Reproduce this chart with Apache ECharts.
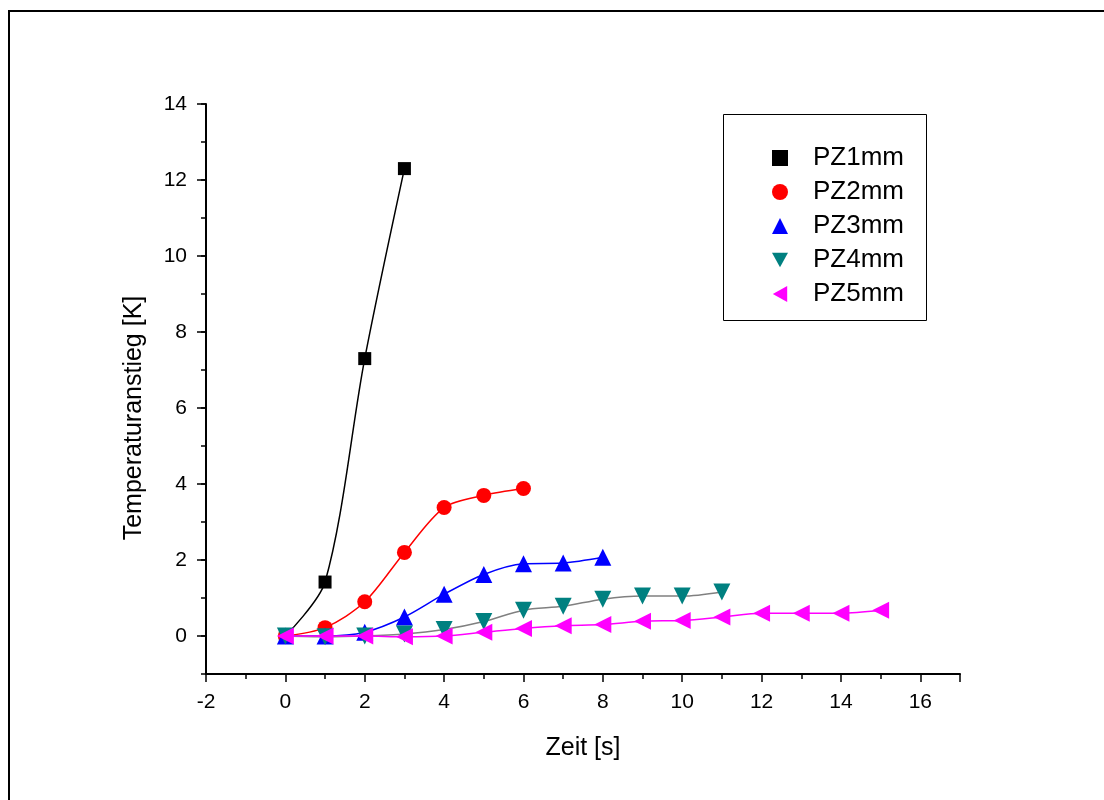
<!DOCTYPE html>
<html>
<head>
<meta charset="utf-8">
<script src="https://cdn.jsdelivr.net/npm/echarts@6/dist/echarts.min.js"></script>
<style>
  html, body { margin: 0; padding: 0; background: #fff; }
  #chart { width: 1104px; height: 800px; }
</style>
</head>
<body>
<div id="chart"></div>
<script>
// Measured temperature rise over time for each PZ thickness
const xPZ1 = [0, 1, 2, 3];
const yPZ1 = [0, 1.42, 7.3, 12.3];

const xPZ2 = [0, 1, 2, 3, 4, 5, 6];
const yPZ2 = [0, 0.22, 0.9, 2.2, 3.38, 3.7, 3.88];

const xPZ3 = [0, 1, 2, 3, 4, 5, 6, 7, 8];
const yPZ3 = [0, 0, 0.1, 0.5, 1.1, 1.62, 1.9, 1.92, 2.07];

const xPZ4 = [0, 1, 2, 3, 4, 5, 6, 7, 8, 9, 10, 11];
const yPZ4 = [0, -0.02, 0, 0.05, 0.17, 0.38, 0.68, 0.78, 0.97, 1.05, 1.05, 1.16];

const xPZ5 = [0, 1, 2, 3, 4, 5, 6, 7, 8, 9, 10, 11, 12, 13, 14, 15];
const yPZ5 = [0, 0, 0, -0.02, 0, 0.1, 0.2, 0.27, 0.3, 0.39, 0.41, 0.5, 0.6, 0.6, 0.6, 0.68];

const seriesNames = ['PZ1mm', 'PZ2mm', 'PZ3mm', 'PZ4mm', 'PZ5mm'];

const xTickMin = -2, xTickMax = 17, xTickStep = 2;
const yMin = -1, yMax = 14;
const yMajorTicks = [0, 2, 4, 6, 8, 10, 12, 14];

const FONT = 'Liberation Sans, Arial, sans-serif';

// marker shapes
const ICON_DOWN = 'path://M0,0 L10,0 L5,9 Z';
const ICON_LEFT = 'path://M0,5 L9,0 L9,10 Z';

function pairs(xs, ys) { return xs.map((x, i) => [x, ys[i]]); }

function makeSeries(name, xs, ys, symbol, size, markerColor, lineColor) {
  return {
    name: name,
    type: 'line',
    data: pairs(xs, ys),
    smooth: 0.3,
    symbol: symbol,
    symbolSize: size,
    showAllSymbol: true,
    yAxisIndex: 0,
    itemStyle: { color: markerColor },
    lineStyle: { color: lineColor, width: 1.5 },
    animation: false
  };
}

const chart = echarts.init(document.getElementById('chart'), null, { renderer: 'canvas' });

const tickLine = { color: '#000', width: 1.5 };

chart.setOption({
  backgroundColor: '#ffffff',
  animation: false,
  grid: { left: 206, right: 144, top: 104, bottom: 126, containLabel: false },
  xAxis: {
    type: 'value',
    min: xTickMin,
    max: xTickMax,
    interval: xTickStep,
    name: 'Zeit [s]',
    nameLocation: 'middle',
    nameGap: 62,
    nameTextStyle: { fontFamily: FONT, fontSize: 25, color: '#000' },
    axisLine: { onZero: false, lineStyle: { color: '#000', width: 2 } },
    axisTick: { show: true, inside: false, length: 8, lineStyle: tickLine },
    minorTick: { show: true, splitNumber: 2, length: 5, lineStyle: tickLine },
    splitLine: { show: false },
    axisLabel: {
      fontFamily: FONT, fontSize: 21, color: '#000', margin: 18,
      formatter: v => (v > 16 ? '' : String(v))
    }
  },
  yAxis: [
    {
      // main axis with labelled major ticks
      type: 'value',
      min: yMin,
      max: yMax,
      interval: 1,
      position: 'left',
      axisLine: { onZero: false, lineStyle: { color: '#000', width: 2 } },
      axisTick: { show: true, inside: false, length: 9, lineStyle: tickLine, customValues: yMajorTicks },
      splitLine: { show: false },
      axisLabel: {
        fontFamily: FONT, fontSize: 21, color: '#000', margin: 19,
        customValues: yMajorTicks
      },
      z: 3
    },
    {
      // short unlabelled ticks at odd values
      type: 'value',
      min: yMin,
      max: yMax,
      interval: 1,
      position: 'left',
      offset: 0,
      axisLine: { show: false, onZero: false },
      axisTick: { show: true, inside: false, length: 5, lineStyle: tickLine },
      splitLine: { show: false },
      axisLabel: { show: false }
    }
  ],
  legend: {
    orient: 'vertical',
    left: 767,
    top: 140,
    itemWidth: 16,
    itemHeight: 16,
    itemGap: 8,
    textStyle: { fontFamily: FONT, fontSize: 26, color: '#000', lineHeight: 26, padding: [0, 0, 0, 20] },
    data: [
      { name: 'PZ1mm', icon: 'rect', itemStyle: { color: '#000' } },
      { name: 'PZ2mm', icon: 'circle', itemStyle: { color: '#ff0000' } },
      { name: 'PZ3mm', icon: 'triangle', itemStyle: { color: '#0000ff' } },
      { name: 'PZ4mm', icon: ICON_DOWN, itemStyle: { color: '#008080' } },
      { name: 'PZ5mm', icon: ICON_LEFT, itemStyle: { color: '#ff00ff' } }
    ],
    selectedMode: false
  },
  graphic: [
    // outer frame edges
    { type: 'line', shape: { x1: 9, y1: 11, x2: 9, y2: 800 }, style: { stroke: '#000', lineWidth: 2 } },
    { type: 'line', shape: { x1: 8, y1: 11, x2: 1104, y2: 11 }, style: { stroke: '#000', lineWidth: 2 } },
    // legend box
    { type: 'rect', shape: { x: 723.5, y: 114.5, width: 203, height: 206 },
      style: { fill: 'none', stroke: '#000', lineWidth: 1 }, z: 1 },
    // y axis title
    { type: 'text', x: 134, y: 418, rotation: Math.PI / 2,
      style: { text: 'Temperaturanstieg [K]', fontFamily: FONT, fontSize: 25, fill: '#000',
        align: 'center', verticalAlign: 'middle' } }
  ],
  series: [
    makeSeries(seriesNames[0], xPZ1, yPZ1, 'rect', 13, '#000000', '#000000'),
    makeSeries(seriesNames[1], xPZ2, yPZ2, 'circle', 15, '#ff0000', '#ff0000'),
    makeSeries(seriesNames[2], xPZ3, yPZ3, 'triangle', 17, '#0000ff', '#0000ff'),
    makeSeries(seriesNames[3], xPZ4, yPZ4, ICON_DOWN, 17, '#008080', '#808080'),
    makeSeries(seriesNames[4], xPZ5, yPZ5, ICON_LEFT, 17, '#ff00ff', '#ff00ff')
  ]
});
</script>
</body>
</html>
